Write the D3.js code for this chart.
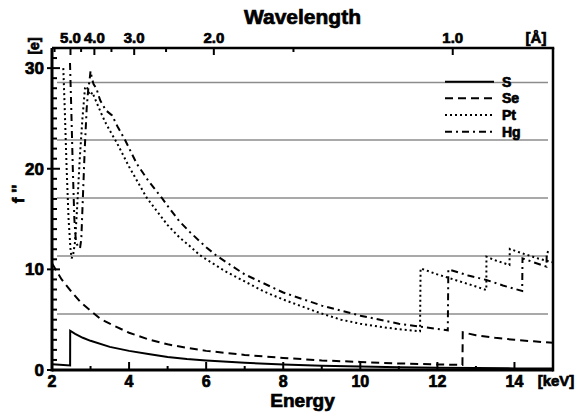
<!DOCTYPE html>
<html>
<head>
<meta charset="utf-8">
<script src="https://cdn.jsdelivr.net/npm/d3@7"></script>
<style>
  body { margin: 0; background: #fff; }
  svg text { font-family: "Liberation Sans", Arial, sans-serif; font-weight: bold; fill: #000;
             stroke: #000; stroke-width: 0.7px; paint-order: stroke; }
</style>
</head>
<body>
<svg id="chart" width="578" height="412"></svg>
<script>
// f'' (electrons) against photon energy (keV)
const sData = [[2.0,0.58],[2.2,0.52],[2.47,0.45],[2.472,3.9],[2.6,3.6],[2.8,3.2],[3.0,2.9],[3.5,2.3],[4.0,1.9],[4.5,1.6],[5.0,1.3],[5.5,1.1],[6.0,0.95],[7.0,0.72],[8.0,0.55],[9.0,0.43],[10.0,0.35],[11.0,0.28],[12.0,0.23],[13.0,0.19],[14.0,0.16],[15.0,0.14]];
const seData = [[2.0,10.6],[2.25,9.0],[2.5,7.8],[2.75,6.7],[3.0,5.9],[3.25,5.1],[3.5,4.6],[4.0,3.7],[4.5,3.05],[5.0,2.55],[5.5,2.2],[6.0,1.9],[6.5,1.7],[7.0,1.5],[8.0,1.2],[9.0,0.95],[10.0,0.8],[11.0,0.65],[12.0,0.55],[12.65,0.5],[12.658,3.75],[13.0,3.45],[13.5,3.2],[14.0,3.0],[14.5,2.85],[15.0,2.7]];
const ptData = [[2.293,30.0],[2.33,26.0],[2.38,20.0],[2.43,15.0],[2.48,12.0],[2.511,11.1],[2.55,11.5],[2.597,12.7],[2.65,16.0],[2.72,21.0],[2.79,25.0],[2.856,28.0],[2.9,28.2],[2.95,27.6],[3.0,27.3],[3.05,27.6],[3.1,27.1],[3.2,26.2],[3.3,25.3],[3.4,24.5],[3.5,23.8],[3.68,22.6],[4.0,20.2],[4.46,17.1],[5.0,14.4],[5.3,13.2],[5.58,12.3],[5.84,11.4],[6.5,9.8],[7.0,8.8],[7.5,7.8],[8.0,7.0],[8.5,6.3],[8.96,5.65],[9.5,5.0],[10.0,4.6],[10.5,4.3],[11.0,4.05],[11.55,3.85],[11.564,10.1],[12.0,9.5],[12.5,8.9],[13.0,8.3],[13.27,7.95],[13.273,11.26],[13.5,10.9],[13.87,10.44],[13.88,12.03],[14.2,11.6],[14.6,11.1],[15.0,10.7]];
const hgData = [[2.467,30.5],[2.5,26.0],[2.54,20.0],[2.58,15.0],[2.62,12.8],[2.68,12.2],[2.727,12.1],[2.76,13.0],[2.8,17.0],[2.85,22.0],[2.9,26.0],[2.94,27.9],[2.975,28.8],[3.0,29.7],[3.04,28.9],[3.08,28.4],[3.15,28.0],[3.25,26.8],[3.4,25.8],[3.56,25.3],[3.7,24.2],[3.89,22.9],[4.2,20.5],[4.5,18.8],[4.85,17.1],[5.0,16.3],[5.3,14.8],[5.58,13.7],[6.0,12.2],[6.28,11.33],[7.0,9.5],[8.0,7.7],[9.0,6.4],[10.0,5.4],[11.0,4.6],[12.27,3.95],[12.284,10.0],[12.8,9.4],[13.27,8.95],[13.7,8.4],[14.2,7.85],[14.209,11.1],[14.5,10.7],[14.83,10.27],[14.839,11.76],[15.0,11.5]];

const seriesNames = ["S", "Se", "Pt", "Hg"];
const seriesData = [sData, seData, ptData, hgData];
const dashes = [null, "8,5", "2,3", "7,4,2,4"];

const energyTicks = [2, 4, 6, 8, 10, 12, 14];
const energyMinor = [3, 5, 7, 9, 11, 13];
const fTicks = [0, 10, 20, 30];
const fMinor = d3.range(1, 33).filter(v => v % 10 !== 0);
const waveTicks = [5.0, 4.0, 3.0, 2.0, 1.0];
const waveMinor = [6.0, 4.5, 3.5, 2.5, 1.5];
const grayLevels = [5.57, 11.33, 17.1, 22.86, 28.56];
const hc = 12.3984;

const svg = d3.select("#chart");
const mLeft = 52, mRight = 553, mTop = 48, mBottom = 370;

const x = d3.scaleLinear().domain([2, 15]).range([mLeft, mRight]);
const y = d3.scaleLinear().domain([0, 32]).range([mBottom, mTop]);

// gray ruled lines
svg.append("g").selectAll("line")
  .data(grayLevels)
  .enter().append("line")
  .attr("x1", x(2.13)).attr("x2", x(14.87))
  .attr("y1", d => y(d)).attr("y2", d => y(d))
  .attr("stroke", "#8c8c8c").attr("stroke-width", 1.5);

// curves
svg.append("clipPath").attr("id", "clip")
  .append("rect").attr("x", mLeft).attr("y", mTop).attr("width", mRight - mLeft).attr("height", mBottom - mTop);

const line = d3.line().x(d => x(d[0])).y(d => y(d[1]));
const curves = svg.append("g").attr("clip-path", "url(#clip)");
seriesData.forEach((data, i) => {
  curves.append("path")
    .attr("d", line(data))
    .attr("fill", "none")
    .attr("stroke", "#000")
    .attr("stroke-width", 2)
    .attr("stroke-dasharray", dashes[i]);
});

// frame
const frame = svg.append("g").attr("stroke", "#000").attr("fill", "none");
frame.append("line").attr("x1", mLeft).attr("x2", mRight).attr("y1", mBottom).attr("y2", mBottom).attr("stroke-width", 3);
frame.append("line").attr("x1", mLeft).attr("x2", mLeft).attr("y1", mTop).attr("y2", mBottom + 1.5).attr("stroke-width", 3);
frame.append("line").attr("x1", mRight).attr("x2", mRight).attr("y1", mTop).attr("y2", mBottom + 1.5).attr("stroke-width", 2.5);
frame.append("line").attr("x1", mLeft).attr("x2", mRight + 1.25).attr("y1", mTop).attr("y2", mTop).attr("stroke-width", 2.5);

// bottom ticks
const ticks = svg.append("g").attr("stroke", "#000").attr("stroke-width", 2);
energyTicks.forEach(v => ticks.append("line").attr("x1", x(v)).attr("x2", x(v)).attr("y1", mBottom).attr("y2", mBottom - 8));
energyMinor.forEach(v => ticks.append("line").attr("x1", x(v)).attr("x2", x(v)).attr("y1", mBottom).attr("y2", mBottom - 4));
// left ticks
fTicks.forEach(v => ticks.append("line").attr("x1", mLeft - 5).attr("x2", mLeft + 8).attr("y1", y(v)).attr("y2", y(v)));
fMinor.forEach(v => ticks.append("line").attr("x1", mLeft).attr("x2", mLeft + 5).attr("y1", y(v)).attr("y2", y(v)));
// top (wavelength) ticks
waveTicks.forEach(w => ticks.append("line").attr("x1", x(hc / w)).attr("x2", x(hc / w)).attr("y1", mTop).attr("y2", mTop + 7));
waveMinor.forEach(w => ticks.append("line").attr("x1", x(hc / w)).attr("x2", x(hc / w)).attr("y1", mTop).attr("y2", mTop + 4));

// labels
const labels = svg.append("g");
energyTicks.forEach(v => labels.append("text")
  .attr("x", x(v)).attr("y", 387).attr("text-anchor", "middle").attr("font-size", 16).text(v));
labels.append("text").attr("x", 556).attr("y", 386).attr("text-anchor", "middle").attr("font-size", 15).text("[keV]");
labels.append("text").attr("x", (mLeft + mRight) / 2).attr("y", 407).attr("text-anchor", "middle").attr("font-size", 19).text("Energy");

fTicks.forEach(v => labels.append("text")
  .attr("x", 44).attr("y", y(v) + 6).attr("text-anchor", "end").attr("font-size", 17).text(v));

waveTicks.forEach(w => labels.append("text")
  .attr("x", x(hc / w)).attr("y", 43).attr("text-anchor", "middle").attr("font-size", 15).text(w.toFixed(1)));
labels.append("text").attr("x", 536).attr("y", 43).attr("text-anchor", "middle").attr("font-size", 15).text("[Å]");
labels.append("text").attr("x", (mLeft + mRight) / 2).attr("y", 24).attr("text-anchor", "middle").attr("font-size", 21).text("Wavelength");

labels.append("text").attr("transform", "translate(24,194) rotate(-90)").attr("text-anchor", "middle").attr("font-size", 17).text("f ''");
labels.append("text").attr("transform", "translate(39,46) rotate(-90)").attr("text-anchor", "middle").attr("font-size", 14).text("[e]");

// legend
const legendY = [81.7, 98.3, 115, 131.7];
const legend = svg.append("g");
seriesNames.forEach((name, i) => {
  legend.append("line")
    .attr("x1", 445).attr("x2", 494).attr("y1", legendY[i]).attr("y2", legendY[i])
    .attr("stroke", "#000").attr("stroke-width", 2).attr("stroke-dasharray", dashes[i]);
  legend.append("text").attr("x", 502).attr("y", legendY[i] + 5).attr("font-size", 14).text(name);
});
</script>
</body>
</html>
